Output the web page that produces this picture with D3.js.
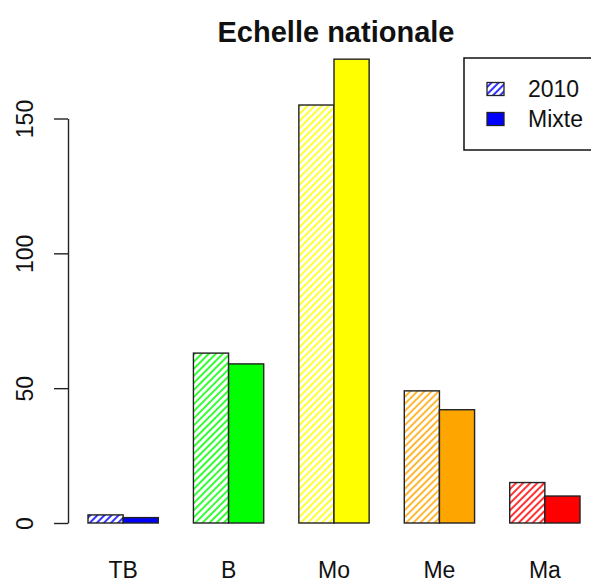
<!DOCTYPE html>
<html>
<head>
<meta charset="utf-8">
<script src="https://cdn.jsdelivr.net/npm/d3@7"></script>
<style>
  html, body { margin: 0; padding: 0; background: #fff; }
  svg { display: block; font-family: "Liberation Sans", Arial, sans-serif; }
</style>
</head>
<body>
<svg id="chart" width="591" height="584"></svg>
<script>
const categories = ["TB", "B", "Mo", "Me", "Ma"];
const series = ["2010", "Mixte"];
const values2010 = [3, 63, 155, 49, 15];
const valuesMixte = [2, 59, 172, 42, 10];
const barColors = ["#0000FF", "#00FF00", "#FFFF00", "#FFA500", "#FF0000"];
const yTicks = [0, 50, 100, 150];
const title = "Echelle nationale";

const svg = d3.select("#chart");
const defs = svg.append("defs");

// R-style bar units: first bar starts at unit 1, last ends at unit 15
const ux = d3.scaleLinear().domain([1, 15]).range([88, 580]);
const y = d3.scaleLinear().domain([0, 150]).range([523, 118.5]);

const x0 = d3.scaleBand().domain(categories).range([ux(1), ux(15)]).paddingInner(1/3).paddingOuter(0);
const x1 = d3.scaleBand().domain(series).range([0, x0.bandwidth()]);

// hatch patterns
barColors.forEach((c, i) => {
  const p = defs.append("pattern")
    .attr("id", "hatch" + i)
    .attr("patternUnits", "userSpaceOnUse")
    .attr("width", 5).attr("height", 5)
    .attr("patternTransform", "rotate(45)");
  p.append("rect").attr("width", 5).attr("height", 5).attr("fill", "#fff");
  p.append("line").attr("x1", 1).attr("x2", 1).attr("y1", 0).attr("y2", 5)
    .attr("stroke", c).attr("stroke-width", 1.6);
});

const data = categories.map((c, i) => ({
  cat: c, i,
  vals: [{s: "2010", v: values2010[i]}, {s: "Mixte", v: valuesMixte[i]}]
}));

const g = svg.append("g");
const groups = g.selectAll("g.grp").data(data).enter().append("g")
  .attr("transform", d => `translate(${x0(d.cat)},0)`);

groups.selectAll("rect").data(d => d.vals.map(v => ({...v, i: d.i}))).enter().append("rect")
  .attr("x", d => x1(d.s))
  .attr("width", x1.bandwidth())
  .attr("y", d => y(d.v))
  .attr("height", d => y(0) - y(d.v))
  .attr("fill", d => d.s === "2010" ? `url(#hatch${d.i})` : barColors[d.i])
  .attr("stroke", "#222")
  .attr("stroke-width", 1.4);

// y axis
const yAxis = d3.axisLeft(y).tickValues(yTicks).tickSize(14).tickSizeOuter(0).tickPadding(0);
const ya = svg.append("g").attr("transform", "translate(68,0)").call(yAxis);
ya.select(".domain").attr("stroke", "#222").attr("stroke-width", 1.4);
ya.selectAll(".tick line").attr("stroke", "#222").attr("stroke-width", 1.4);
ya.selectAll(".tick text")
  .attr("font-size", 23)
  .attr("fill", "#111")
  .attr("text-anchor", "middle")
  .attr("x", 0).attr("dy", 0)
  .attr("transform", "translate(-35,0) rotate(-90)")
  .attr("font-family", "'Liberation Sans', Arial, sans-serif");

// category labels
svg.append("g").selectAll("text").data(categories).enter().append("text")
  .attr("x", d => x0(d) + x0.bandwidth() / 2)
  .attr("y", 578)
  .attr("text-anchor", "middle")
  .attr("font-size", 23)
  .attr("fill", "#111")
  .text(d => d);

// title
svg.append("text")
  .attr("x", 336).attr("y", 42)
  .attr("text-anchor", "middle")
  .attr("font-size", 29)
  .attr("font-weight", "bold")
  .attr("fill", "#111")
  .text(title);

// legend
const lg = svg.append("g");
lg.append("rect").attr("x", 464).attr("y", 58).attr("width", 200).attr("height", 92)
  .attr("fill", "#fff").attr("stroke", "#111").attr("stroke-width", 1.5);
const legendItems = [
  {label: series[0], fill: "url(#hatch0)"},
  {label: series[1], fill: barColors[0]}
];
legendItems.forEach((d, i) => {
  const cy = 89 + i * 30;
  lg.append("rect").attr("x", 487).attr("y", cy - 6.5).attr("width", 17).attr("height", 13)
    .attr("fill", d.fill).attr("stroke", "#222").attr("stroke-width", 1.3);
  lg.append("text").attr("x", 528).attr("y", cy + 8)
    .attr("font-size", 23).attr("fill", "#111").text(d.label);
});
</script>
</body>
</html>
